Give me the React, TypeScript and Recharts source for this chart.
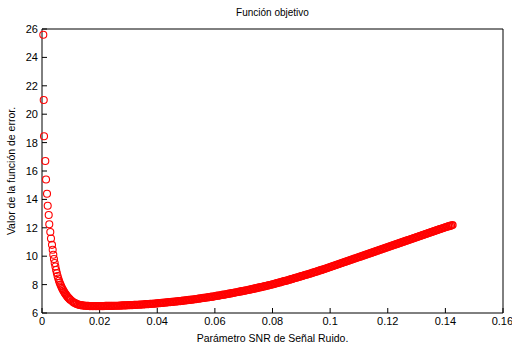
import { Scatter, ScatterChart, XAxis, YAxis } from "recharts";

// steep start: markers
const earlyX = [
  0.00045, 0.0006, 0.0007, 0.00115, 0.0014, 0.00174, 0.00198, 0.00233,
  0.00253, 0.00288, 0.00312, 0.00347, 0.00371, 0.00392, 0.00415, 0.0044,
  0.00465, 0.0049, 0.00515, 0.0054, 0.00565, 0.0059, 0.00615, 0.0064,
  0.00665, 0.0069, 0.00715, 0.0074, 0.00765, 0.0079, 0.00815, 0.0084,
  0.00865, 0.0089, 0.00915, 0.0094, 0.00965, 0.0099, 0.0105,
];
const earlyY = [
  25.6, 21.0, 18.45, 16.7, 15.4, 14.4, 13.55, 12.9, 12.25, 11.7, 11.25, 10.8,
  10.45, 10.1, 9.8, 9.52, 9.27, 9.03, 8.81, 8.61, 8.43, 8.27, 8.13, 8.0, 7.88,
  7.77, 7.67, 7.58, 7.49, 7.41, 7.33, 7.26, 7.19, 7.13, 7.07, 7.02, 6.97, 6.92,
  6.82,
];

// from 0.011 to 0.1425, one reading every 0.0005 (ten per row)
const mainStart = 0.011;
const mainStep = 0.0005;
const mainY = [
  6.74, 6.69, 6.64, 6.6, 6.57, 6.55, 6.53, 6.52, 6.51, 6.5,
  6.5, 6.49, 6.49, 6.49, 6.49, 6.49, 6.49, 6.49, 6.49, 6.49,
  6.49, 6.49, 6.5, 6.5, 6.5, 6.5, 6.5, 6.5, 6.51, 6.51,
  6.51, 6.51, 6.52, 6.52, 6.53, 6.53, 6.54, 6.54, 6.55, 6.55,
  6.56, 6.56, 6.57, 6.57, 6.58, 6.58, 6.59, 6.59, 6.6, 6.61,
  6.62, 6.62, 6.63, 6.64, 6.65, 6.65, 6.66, 6.67, 6.68, 6.69,
  6.7, 6.71, 6.72, 6.73, 6.74, 6.75, 6.76, 6.77, 6.78, 6.79,
  6.8, 6.81, 6.82, 6.83, 6.84, 6.85, 6.87, 6.88, 6.89, 6.9,
  6.92, 6.93, 6.94, 6.95, 6.97, 6.98, 7.0, 7.01, 7.03, 7.04,
  7.06, 7.07, 7.09, 7.1, 7.12, 7.13, 7.15, 7.16, 7.18, 7.2,
  7.22, 7.23, 7.25, 7.27, 7.29, 7.3, 7.32, 7.34, 7.36, 7.38,
  7.4, 7.42, 7.44, 7.46, 7.48, 7.5, 7.52, 7.54, 7.56, 7.58,
  7.6, 7.62, 7.64, 7.66, 7.69, 7.71, 7.73, 7.75, 7.78, 7.8,
  7.82, 7.84, 7.87, 7.89, 7.92, 7.94, 7.97, 7.99, 8.02, 8.04,
  8.07, 8.1, 8.13, 8.15, 8.18, 8.21, 8.24, 8.26, 8.29, 8.32,
  8.35, 8.38, 8.41, 8.44, 8.47, 8.5, 8.53, 8.56, 8.59, 8.62,
  8.65, 8.68, 8.71, 8.74, 8.77, 8.8, 8.84, 8.87, 8.9, 8.93,
  8.97, 9.0, 9.03, 9.06, 9.1, 9.13, 9.17, 9.2, 9.24, 9.27,
  9.31, 9.34, 9.38, 9.41, 9.45, 9.48, 9.52, 9.55, 9.59, 9.62,
  9.66, 9.69, 9.73, 9.76, 9.8, 9.83, 9.87, 9.9, 9.94, 9.97,
  10.01, 10.04, 10.08, 10.11, 10.15, 10.18, 10.22, 10.25, 10.29, 10.32,
  10.36, 10.39, 10.43, 10.46, 10.5, 10.53, 10.57, 10.6, 10.64, 10.67,
  10.71, 10.74, 10.78, 10.81, 10.85, 10.88, 10.92, 10.95, 10.99, 11.02,
  11.06, 11.09, 11.13, 11.16, 11.2, 11.23, 11.27, 11.3, 11.34, 11.37,
  11.41, 11.44, 11.48, 11.51, 11.55, 11.58, 11.62, 11.65, 11.69, 11.72,
  11.76, 11.79, 11.83, 11.86, 11.9, 11.93, 11.97, 12.0, 12.04, 12.07,
  12.1, 12.13, 12.16, 12.19,
];

const xTicks = [0, 0.02, 0.04, 0.06, 0.08, 0.1, 0.12, 0.14, 0.16];
const yTicks = [6, 8, 10, 12, 14, 16, 18, 20, 22, 24, 26];

const earlyPoints = earlyX.map((x, i) => ({ x, y: earlyY[i] }));
const mainPoints = mainY.map((y, i) => ({
  x: Number((mainStart + i * mainStep).toFixed(5)),
  y,
}));

const font = '"Liberation Sans", Arial, sans-serif';
const tickStyle = { fill: "#000", fontSize: 11, fontFamily: font };

const Ring = (props: any) => (
  <circle cx={props.cx} cy={props.cy} r={3.5} fill="none" stroke="#f00" strokeWidth={1.1} />
);
const DenseRing = (props: any) => (
  <circle cx={props.cx} cy={props.cy} r={3.4} fill="none" stroke="#f00" strokeWidth={1.4} />
);

export default function App() {
  return (
    <div
      style={{
        position: "absolute",
        left: 0,
        top: 0,
        width: 512,
        height: 344,
        background: "#fff",
        fontFamily: font,
        color: "#000",
      }}
    >
      <ScatterChart width={512} height={344} margin={{ top: 28, right: 8, bottom: 0, left: 0 }}>
        <XAxis
          type="number"
          dataKey="x"
          domain={[0, 0.16]}
          ticks={xTicks}
          height={31}
          tickSize={-5}
          tickMargin={9}
          stroke="#000"
          tick={tickStyle}
          tickFormatter={(v) => String(v)}
        />
        <XAxis
          xAxisId="top"
          orientation="top"
          type="number"
          domain={[0, 0.16]}
          ticks={xTicks}
          height={1}
          tickSize={-5}
          tick={false}
          stroke="#000"
        />
        <YAxis
          type="number"
          dataKey="y"
          domain={[6, 26]}
          ticks={yTicks}
          width={42}
          tickSize={-5}
          tickMargin={9}
          stroke="#000"
          tick={tickStyle}
        />
        <YAxis
          yAxisId="right"
          orientation="right"
          type="number"
          domain={[6, 26]}
          ticks={yTicks}
          width={1}
          tickSize={-5}
          tick={false}
          stroke="#000"
        />
        <Scatter data={mainPoints} shape={DenseRing} isAnimationActive={false} />
        <Scatter data={earlyPoints} shape={Ring} isAnimationActive={false} />
      </ScatterChart>
      <div
        style={{
          position: "absolute",
          left: 42,
          width: 461,
          top: 7,
          textAlign: "center",
          fontSize: 10,
          lineHeight: "12px",
        }}
      >
        Función objetivo
      </div>
      <div
        style={{
          position: "absolute",
          left: 42,
          width: 461,
          top: 332,
          textAlign: "center",
          fontSize: 10.5,
          lineHeight: "12px",
        }}
      >
        Parámetro SNR de Señal Ruido.
      </div>
      <div
        style={{
          position: "absolute",
          left: 11 - 100,
          top: 171 - 6,
          width: 200,
          textAlign: "center",
          fontSize: 10.5,
          lineHeight: "12px",
          transform: "rotate(-90deg)",
        }}
      >
        Valor de la función de error.
      </div>
    </div>
  );
}
